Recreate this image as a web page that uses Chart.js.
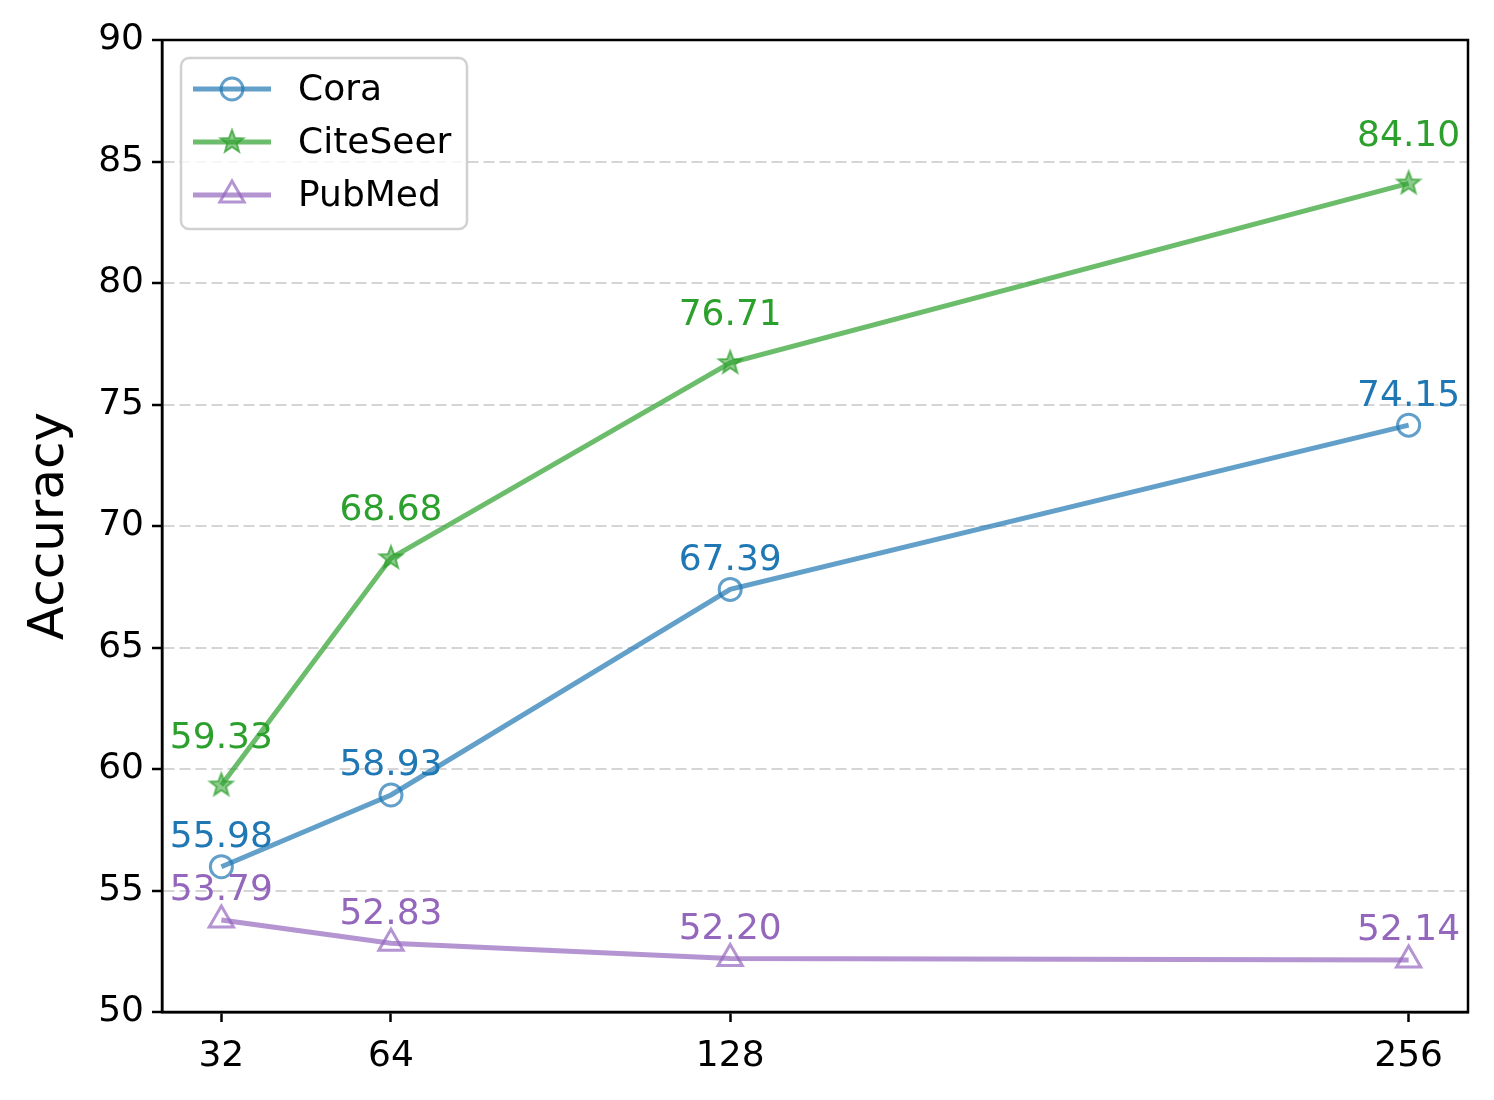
<!DOCTYPE html>
<html>
<head>
<meta charset="utf-8">
<title>Accuracy vs dimension</title>
<script src="https://cdn.jsdelivr.net/npm/chart.js@4.4.1/dist/chart.umd.min.js"></script>
<style>
    body { margin: 0; background: #fff; }
    #wrap { width: 1494px; height: 1100px; }
</style>
</head>
<body>
<div id="wrap"><canvas id="myChart" width="1494" height="1100"></canvas></div>
<script>
// Values
const dims = [32, 64, 128, 256];
const xTicks = [32, 64, 128, 256];
const cora = [55.98, 58.93, 67.39, 74.15];
const citeSeer = [59.33, 68.68, 76.71, 84.10];
const pubMed = [53.79, 52.83, 52.20, 52.14];

const FONT = 'DejaVu Sans';
Chart.defaults.font.family = FONT;
Chart.defaults.color = '#000';

// matplotlib tab colours, lines drawn with alpha 0.7
const BLUE = 'rgb(31,119,180)';
const GREEN = 'rgb(44,160,44)';
const PURPLE = 'rgb(148,103,189)';
const fade = (c, a = 0.7) => c.replace('rgb(', 'rgba(').replace(')', ',' + a + ')');

// Chart.js has no five point star, so draw one on a small canvas
function makeStar(color, r) {
    const size = Math.ceil(r * 2 + 6);
    const c = document.createElement('canvas');
    c.width = size;
    c.height = size;
    const g = c.getContext('2d');
    const cx = size / 2, cy = size / 2;
    g.beginPath();
    for (let i = 0; i < 10; i++) {
        const rad = i % 2 === 0 ? r : r * 0.42;
        const a = -Math.PI / 2 + i * Math.PI / 5;
        const px = cx + Math.cos(a) * rad, py = cy + Math.sin(a) * rad;
        if (i === 0) g.moveTo(px, py); else g.lineTo(px, py);
    }
    g.closePath();
    g.fillStyle = fade(color, 0.55);
    g.fill();
    g.lineWidth = 2;
    g.lineJoin = 'miter';
    g.strokeStyle = fade(color, 0.7);
    g.stroke();
    return c;
}

const starImg = makeStar(GREEN, 12);

function toPoints(values) {
    return values.map((v, i) => ({ x: dims[i], y: v }));
}

// Value labels above each marker, in the full series colour
const valueLabels = {
    id: 'valueLabels',
    afterDatasetsDraw(chart) {
        const ctx = chart.ctx;
        ctx.save();
        ctx.font = '36px "' + FONT + '"';
        ctx.textAlign = 'center';
        ctx.textBaseline = 'middle';
        chart.data.datasets.forEach((ds, i) => {
            const meta = chart.getDatasetMeta(i);
            ctx.fillStyle = ds.labelColor;
            meta.data.forEach((pt, j) => {
                ctx.fillText(ds.data[j].y.toFixed(2), pt.x, pt.y - ds.labelOffset);
            });
        });
        ctx.restore();
    }
};

// Full box round the plot area, then a matplotlib style legend
function drawFrameAndLegend(chart) {
    const ctx = chart.ctx;
    const a = chart.chartArea;
    ctx.save();
    ctx.strokeStyle = '#000';
    ctx.lineWidth = 2.5;
    ctx.strokeRect(a.left, a.top, a.right - a.left, a.bottom - a.top);

    // legend box
    const bx = a.left + 19, by = a.top + 18, bw = 286, bh = 171;
    ctx.beginPath();
    ctx.roundRect(bx, by, bw, bh, 8);
    ctx.fillStyle = 'rgba(255,255,255,0.8)';
    ctx.fill();
    ctx.strokeStyle = 'rgba(204,204,204,0.9)';
    ctx.lineWidth = 2.5;
    ctx.stroke();

    ctx.font = '36px "' + FONT + '"';
    ctx.textBaseline = 'middle';
    ctx.textAlign = 'left';
    chart.data.datasets.forEach((ds, i) => {
        const y = by + 31 + i * 53;
        ctx.strokeStyle = ds.borderColor;
        ctx.lineWidth = ds.borderWidth;
        ctx.beginPath();
        ctx.moveTo(bx + 12, y);
        ctx.lineTo(bx + 90, y);
        ctx.stroke();
        // marker in the middle of the handle
        ctx.save();
        ctx.strokeStyle = ds.pointBorderColor || ds.borderColor;
        ctx.fillStyle = ds.pointBackgroundColor || 'rgba(0,0,0,0)';
        ctx.lineWidth = ds.pointBorderWidth;
        Chart.helpers.drawPoint(ctx, {
            pointStyle: ds.pointStyle,
            radius: ds.pointRadius,
            borderWidth: ds.pointBorderWidth,
            rotation: 0
        }, bx + 51, y);
        ctx.restore();
        ctx.fillStyle = '#000';
        ctx.fillText(ds.label, bx + 117, y + 2);
    });
    ctx.restore();
}

const ctx = document.getElementById('myChart');
let myChart = new Chart(ctx, {
    type: 'line',
    data: {
        datasets: [{
            label: 'Cora',
            data: toPoints(cora),
            borderColor: fade(BLUE),
            backgroundColor: 'rgba(0,0,0,0)',
            borderWidth: 5,
            pointStyle: 'circle',
            pointRadius: 11,
            pointBorderWidth: 3,
            pointBorderColor: fade(BLUE),
            pointBackgroundColor: 'rgba(0,0,0,0)',
            labelColor: BLUE,
            labelOffset: 29
        }, {
            label: 'CiteSeer',
            data: toPoints(citeSeer),
            borderColor: fade(GREEN),
            backgroundColor: 'rgba(0,0,0,0)',
            borderWidth: 5,
            pointStyle: starImg,
            pointRadius: 12,
            pointBorderWidth: 0,
            labelColor: GREEN,
            labelOffset: 47
        }, {
            label: 'PubMed',
            data: toPoints(pubMed),
            borderColor: fade(PURPLE),
            backgroundColor: 'rgba(0,0,0,0)',
            borderWidth: 5,
            pointStyle: 'triangle',
            pointRadius: 14,
            pointBorderWidth: 3,
            pointBorderColor: fade(PURPLE),
            pointBackgroundColor: 'rgba(0,0,0,0)',
            labelColor: PURPLE,
            labelOffset: 29
        }]
    },
    options: {
        responsive: false,
        animation: false,
        devicePixelRatio: 1,
        layout: { padding: { top: 40, right: 26, left: 0, bottom: 0 } },
        plugins: {
            legend: { display: false },
            tooltip: { enabled: false }
        },
        elements: { line: { tension: 0, fill: false } },
        scales: {
            x: {
                type: 'linear',
                min: 20.8,
                max: 267.2,
                afterBuildTicks: s => { s.ticks = xTicks.map(v => ({ value: v })); },
                afterFit: s => { s.height = 88; },
                ticks: {
                    autoSkip: false,
                    maxRotation: 0,
                    padding: 13,
                    color: '#000',
                    font: { size: 36 },
                    callback: v => String(v)
                },
                grid: {
                    drawOnChartArea: false,
                    tickColor: '#000',
                    tickLength: 10,
                    tickWidth: 2.5
                },
                border: { color: '#000', width: 2.5 }
            },
            y: {
                min: 50,
                max: 90,
                afterFit: s => { s.width = 162; },
                ticks: {
                    stepSize: 5,
                    padding: 8,
                    color: '#000',
                    font: { size: 36 }
                },
                grid: {
                    color: 'rgba(190,190,190,0.65)',
                    lineWidth: 2,
                    tickColor: '#000',
                    tickLength: 10,
                    tickWidth: 2.5
                },
                border: { color: '#000', width: 2.5, dash: [11, 5] },
                title: {
                    display: true,
                    text: 'Accuracy',
                    color: '#000',
                    font: { size: 50 },
                    padding: { top: 20, bottom: 0 }
                }
            }
        }
    },
    plugins: [valueLabels, { id: 'frameAndLegend', afterDraw: drawFrameAndLegend }]
});
</script>
</body>
</html>
